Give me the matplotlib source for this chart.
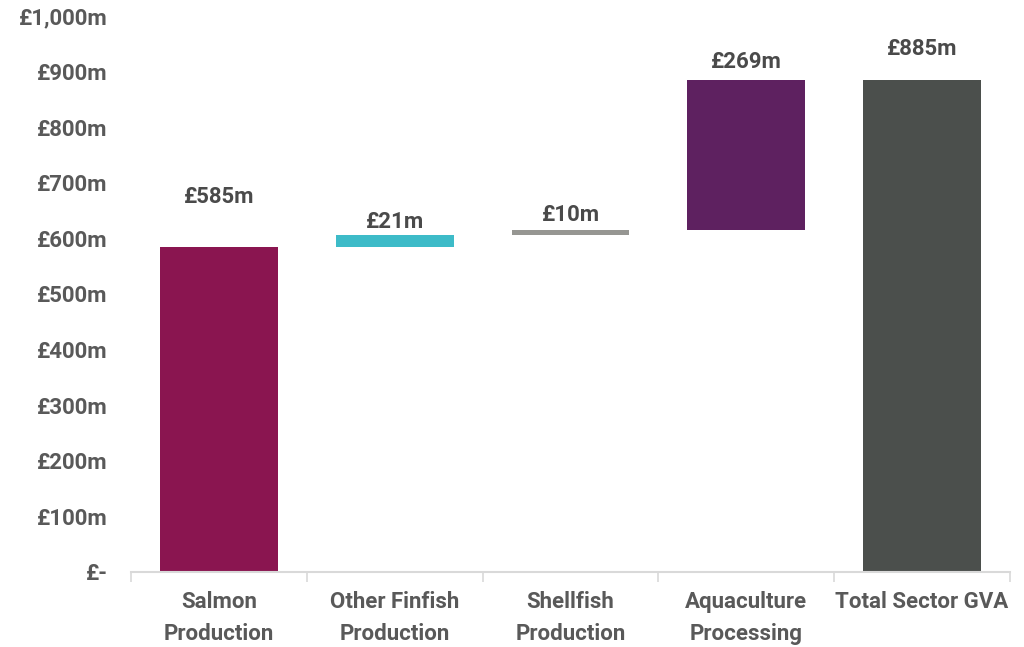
import numpy as np
import matplotlib.pyplot as plt
from matplotlib.ticker import FixedLocator, FuncFormatter

plt.rcParams['font.family'] = ['Roboto', 'DejaVu Sans']

CATEGORIES = ["Salmon\nProduction", "Other Finfish\nProduction", "Shellfish\nProduction",
              "Aquaculture\nProcessing", "Total Sector GVA"]
STEPS = [585, 21, 10, 269]  # £m contributions
COLORS = ["#8A1550", "#3DBBC8", "#969692", "#5E2160", "#4B4F4C"]
LABEL_PAD_PX = [39, 2, 4, 7, 20]  # gap between bar top and value label

TXT = "#595959"

bottoms = list(np.concatenate([[0], np.cumsum(STEPS)[:-1]]))
total = sum(STEPS)
heights = STEPS + [total]
bottoms = bottoms + [0]

fig = plt.figure(figsize=(10.24, 6.47), dpi=100)
ax = fig.add_axes([131 / 1024, 1 - 572 / 647, 879 / 1024, 556 / 647])

x = np.arange(len(CATEGORIES))
ax.bar(x, heights, 0.67, bottom=bottoms, color=COLORS, zorder=2)

for xi, b, h, pad in zip(x, bottoms, heights, LABEL_PAD_PX):
    ax.annotate(f"£{h}m", (xi, b + h), textcoords="offset points", xytext=(0, pad * 0.72),
                ha="center", va="bottom", fontsize=16, fontweight="bold", color="#4a4a4a")

ax.set_xlim(-0.5, len(CATEGORIES) - 0.5)
ax.set_ylim(0, 1000)
ax.yaxis.set_major_locator(FixedLocator(np.arange(0, 1001, 100)))
ax.yaxis.set_major_formatter(FuncFormatter(lambda v, _: "£-" if v == 0 else f"£{int(v):,}m"))
ax.tick_params(axis="y", length=0, pad=17, labelsize=16, labelcolor=TXT)
for t in ax.get_yticklabels():
    t.set_fontweight("bold")

ax.set_xticks(x)
ax.set_xticklabels(CATEGORIES, fontsize=16, fontweight="bold", color=TXT, linespacing=1.55)
ax.tick_params(axis="x", which="major", length=0, pad=14)
ax.set_xticks(np.arange(-0.5, len(CATEGORIES)), minor=True)
ax.tick_params(axis="x", which="minor", length=7, width=1.2, color="#d9d9d9")

for s in ["top", "right", "left"]:
    ax.spines[s].set_visible(False)
ax.spines["bottom"].set_color("#d9d9d9")
ax.spines["bottom"].set_linewidth(1.5)

fig.savefig("out.png", dpi=100)
